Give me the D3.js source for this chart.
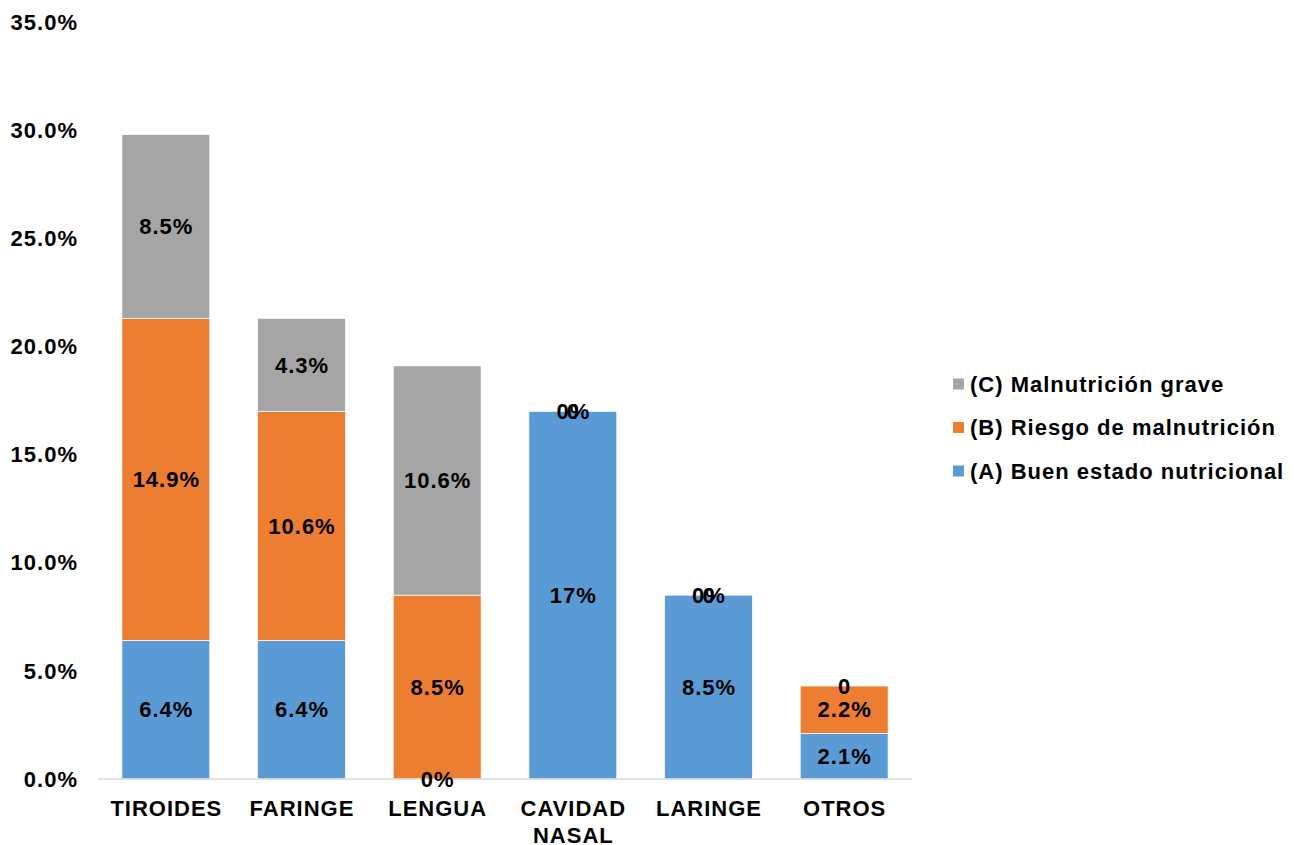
<!DOCTYPE html>
<html>
<head>
<meta charset="utf-8">
<script src="https://cdn.jsdelivr.net/npm/d3@7"></script>
<style>
html,body{margin:0;padding:0;background:#fff;}
svg{display:block;font-family:"Liberation Sans",Arial,sans-serif;font-weight:bold;}
text{letter-spacing:1px;}
</style>
</head>
<body>
<svg id="chart" width="1296" height="845"></svg>
<script>
const categories = ["TIROIDES", "FARINGE", "LENGUA", "CAVIDAD NASAL", "LARINGE", "OTROS"];
const seriesNames = ["(A) Buen estado nutricional", "(B) Riesgo de malnutrición", "(C) Malnutrición grave"];
const valuesA = [6.4, 6.4, 0, 17, 8.5, 2.1];
const valuesB = [14.9, 10.6, 8.5, 0, 0, 2.2];
const valuesC = [8.5, 4.3, 10.6, 0, 0, 0];
const labelsA = ["6.4%", "6.4%", "0%", "17%", "8.5%", "2.1%"];
const labelsB = ["14.9%", "10.6%", "8.5%", "0%", "0%", "2.2%"];
const labelsC = ["8.5%", "4.3%", "10.6%", "0", "0", "0"];
const yTicks = [0, 5, 10, 15, 20, 25, 30, 35];
const colors = ["#5B9BD5", "#ED7D31", "#A5A5A5"];

const FS = 22;
const svg = d3.select("#chart");
const x = d3.scaleBand().domain(categories).range([98, 912]).paddingInner(0.352).paddingOuter(0.176);
const y = d3.scaleLinear().domain([0, 35]).range([779, 22]);

const seriesVals = [valuesA, valuesB, valuesC];
const seriesLabels = [labelsA, labelsB, labelsC];

// y tick labels
svg.append("g").selectAll("text").data(yTicks).join("text")
  .attr("x", 78).attr("y", d => y(d)).attr("dy", "0.35em")
  .attr("text-anchor", "end").attr("font-size", FS).attr("fill", "#000")
  .text(d => d.toFixed(1) + "%");

// stacked bars
const stackData = categories.map((c, i) => {
  let base = 0;
  return seriesVals.map((vals, s) => {
    const seg = {cat: c, s, y0: base, y1: base + vals[i], label: seriesLabels[s][i]};
    base += vals[i];
    return seg;
  });
});
const segs = stackData.flat();

svg.append("g").selectAll("rect").data(segs.filter(d => d.y1 > d.y0)).join("rect")
  .attr("x", d => x(d.cat)).attr("width", x.bandwidth())
  .attr("y", d => y(d.y1)).attr("height", d => y(d.y0) - y(d.y1))
  .attr("fill", d => colors[d.s]).attr("stroke", "#fff").attr("stroke-width", 0.75);

// axis line
svg.append("line").attr("x1", 98).attr("x2", 912).attr("y1", 779).attr("y2", 779)
  .attr("stroke", "#D9D9D9").attr("stroke-width", 1.5);

// data labels
svg.append("g").selectAll("text").data(segs).join("text")
  .attr("x", d => x(d.cat) + x.bandwidth() / 2 + 0.5)
  .attr("y", d => y((d.y0 + d.y1) / 2)).attr("dy", "0.35em")
  .attr("text-anchor", "middle").attr("font-size", FS).attr("fill", "#000")
  .text(d => d.label);

// category labels
const catG = svg.append("g");
categories.forEach(c => {
  const words = c.split(" ");
  const cx = x(c) + x.bandwidth() / 2 + 0.5;
  const t = catG.append("text").attr("x", cx).attr("y", 808)
    .attr("text-anchor", "middle").attr("font-size", FS).attr("fill", "#000");
  words.forEach((w, k) => {
    t.append("tspan").attr("x", cx).attr("dy", k === 0 ? "0.35em" : 27).text(w);
  });
});

// legend
const legendOrder = [2, 1, 0];
const lg = svg.append("g");
legendOrder.forEach((s, k) => {
  const cy = 384 + k * 43.5;
  lg.append("rect").attr("x", 953).attr("y", cy - 5.5).attr("width", 11).attr("height", 11).attr("fill", colors[s]);
  lg.append("text").attr("x", 970).attr("y", cy).attr("dy", "0.35em")
    .attr("font-size", FS).attr("fill", "#000").text(seriesNames[s]);
});
</script>
</body>
</html>
